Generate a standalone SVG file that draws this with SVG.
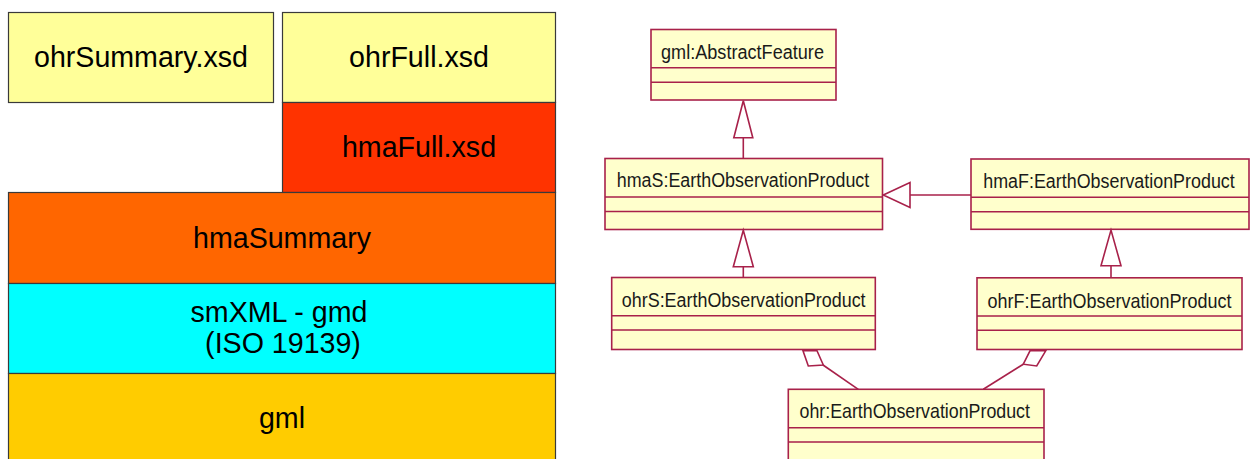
<svg xmlns="http://www.w3.org/2000/svg" width="1255" height="459" viewBox="0 0 1255 459">
  <style>
    .layer { stroke: #3a3a3a; stroke-width: 1.2; }
    .layer-text { font-family: "Liberation Sans", Arial, sans-serif; font-size: 28.6px; fill: #000; text-anchor: middle; }
    .cls { fill: #FFFFCC; stroke: #A8214A; stroke-width: 1.6; }
    .sep { stroke: #A8214A; stroke-width: 1.6; fill: none; }
    .cls-text { font-family: "Liberation Sans", Arial, sans-serif; font-size: 21px; fill: #1a1a1a; text-anchor: middle; }
    .edge { stroke: #A8214A; stroke-width: 1.6; fill: none; }
    .head { stroke: #A8214A; stroke-width: 1.6; fill: #FFFFFF; stroke-linejoin: miter; }
  </style>

  <rect width="1255" height="459" fill="#FFFFFF"/>

  <!-- Schema layer stack -->
  <g id="ohrSummary">
    <rect class="layer" x="8.5" y="12.5" width="265" height="90" fill="#FFFF99"/>
    <text class="layer-text" x="141" y="67">ohrSummary.xsd</text>
  </g>
  <g id="ohrFull">
    <rect class="layer" x="282.5" y="12.5" width="273" height="90" fill="#FFFF99"/>
    <text class="layer-text" x="419" y="67">ohrFull.xsd</text>
  </g>
  <g id="hmaFull">
    <rect class="layer" x="282.5" y="102.5" width="273" height="90" fill="#FF3300"/>
    <text class="layer-text" x="419" y="157">hmaFull.xsd</text>
  </g>
  <g id="hmaSummary">
    <rect class="layer" x="8.5" y="192.5" width="547" height="91" fill="#FF6600"/>
    <text class="layer-text" x="282" y="248">hmaSummary</text>
  </g>
  <g id="smXML">
    <rect class="layer" x="8.5" y="283.5" width="547" height="90" fill="#00FFFF"/>
    <text class="layer-text" x="279" y="322">smXML - gmd</text>
    <text class="layer-text" x="283" y="353">(ISO 19139)</text>
  </g>
  <g id="gml">
    <rect class="layer" x="8.5" y="373.5" width="547" height="100" fill="#FFCC00"/>
    <text class="layer-text" x="282" y="428">gml</text>
  </g>

  <!-- UML classes: name compartment, then two empty compartments -->
  <g id="gmlAbstractFeature">
    <rect class="cls" x="651" y="29.5" width="185" height="70.5"/>
    <path class="sep" d="M651 67.8H836M651 82.2H836"/>
    <text class="cls-text" transform="translate(742.5 59.3) scale(0.862 1)">gml:AbstractFeature</text>
  </g>
  <g id="hmaS">
    <rect class="cls" x="605" y="158.5" width="277.5" height="71"/>
    <path class="sep" d="M605 197H882.5M605 211.5H882.5"/>
    <text class="cls-text" transform="translate(743 186.5) scale(0.852 1)">hmaS:EarthObservationProduct</text>
  </g>
  <g id="hmaF">
    <rect class="cls" x="971" y="159" width="278" height="70.3"/>
    <path class="sep" d="M971 197.3H1249M971 211.7H1249"/>
    <text class="cls-text" transform="translate(1109 188.3) scale(0.852 1)">hmaF:EarthObservationProduct</text>
  </g>
  <g id="ohrS">
    <rect class="cls" x="611.7" y="277.5" width="263.6" height="72"/>
    <path class="sep" d="M611.7 315.7H875.3M611.7 330H875.3"/>
    <text class="cls-text" transform="translate(743.7 307.3) scale(0.853 1)">ohrS:EarthObservationProduct</text>
  </g>
  <g id="ohrF">
    <rect class="cls" x="977" y="277.8" width="265" height="71.7"/>
    <path class="sep" d="M977 316H1242M977 330.3H1242"/>
    <text class="cls-text" transform="translate(1109.5 307.5) scale(0.857 1)">ohrF:EarthObservationProduct</text>
  </g>
  <g id="ohr">
    <rect class="cls" x="788.3" y="389.3" width="255.7" height="90"/>
    <path class="sep" d="M788.3 427.7H1044M788.3 442H1044"/>
    <text class="cls-text" transform="translate(914.7 418.3) scale(0.848 1)">ohr:EarthObservationProduct</text>
  </g>

  <!-- Connectors: generalizations and aggregations -->
  <g id="connectors">
    <!-- hmaS generalizes gml:AbstractFeature -->
    <path class="edge" d="M743.3 137.7V158.5"/>
    <polygon class="head" points="743.3,100.8 733.8,137.7 752.8,137.7"/>
    <!-- hmaF generalizes hmaS -->
    <path class="edge" d="M910 195H971"/>
    <polygon class="head" points="883.3,195 910,182.5 910,207.5"/>
    <!-- ohrS generalizes hmaS -->
    <path class="edge" d="M743.3 266.7V277.5"/>
    <polygon class="head" points="743.3,230.3 733.3,266.7 753.3,266.7"/>
    <!-- ohrF generalizes hmaF -->
    <path class="edge" d="M1111 265.7V277.8"/>
    <polygon class="head" points="1111,230.1 1101,265.7 1121,265.7"/>
    <!-- ohr aggregated in ohrS -->
    <path class="edge" d="M823 365L858.3 389.3"/>
    <polygon class="head" points="803,350.8 817,350.8 823.3,365 808.3,366"/>
    <!-- ohr aggregated in ohrF -->
    <path class="edge" d="M1023.3 364.2L983.3 389.3"/>
    <polygon class="head" points="1030,350.8 1045.7,350.8 1036.7,366 1023.3,364.2"/>
  </g>
</svg>
